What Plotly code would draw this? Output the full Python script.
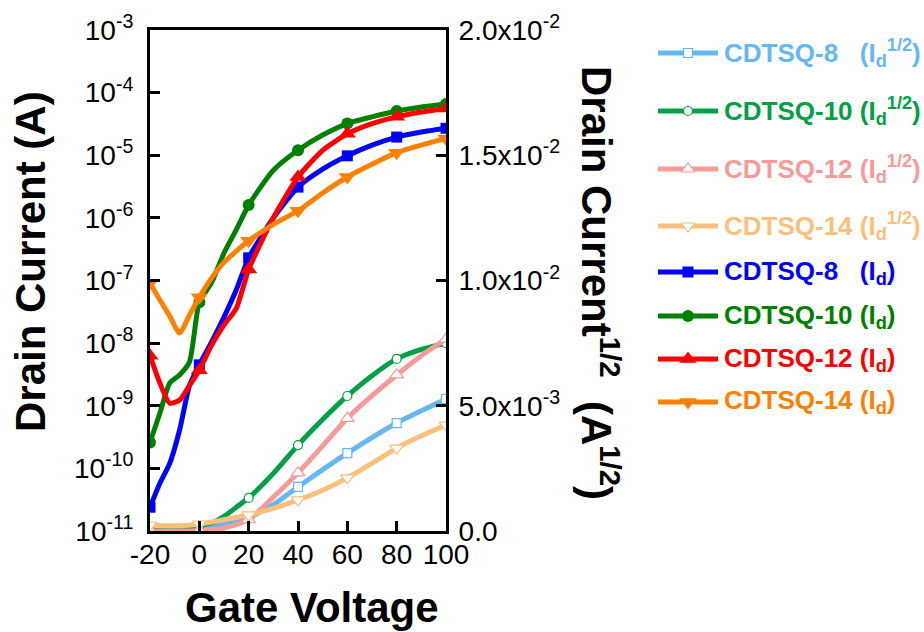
import plotly.graph_objects as go

# ---------------- data ----------------
gate_v = [-20, -16, -12, -8, -4, 0, 5, 10, 15, 20, 30, 40, 50, 60, 70, 80, 90, 100]
marker_v = [-20, 0, 20, 40, 60, 80, 100]

id_8 = [2.4e-11, 5.8e-11, 1.2e-10, 4.1e-10, 2.1e-9, 4.5e-9, 1.05e-8, 2.6e-8, 7.1e-8, 2.3e-7,
        1.0e-6, 3.1e-6, 6.0e-6, 9.8e-6, 1.45e-5, 1.95e-5, 2.35e-5, 2.7e-5]
id_10 = [2.6e-10, 7.6e-10, 2.3e-9, 3.1e-9, 5.0e-9, 4.5e-8, 9.3e-8, 2.75e-7, 6.5e-7, 1.6e-6,
         5.75e-6, 1.2e-5, 2.1e-5, 3.2e-5, 4.1e-5, 5.1e-5, 5.9e-5, 6.6e-5]
id_12 = [6.3e-9, 2.3e-9, 1.1e-9, 1.23e-9, 2.1e-9, 3.7e-9, 9.3e-9, 1.95e-8, 3.6e-8, 1.5e-7,
         1.0e-6, 4.5e-6, 1.2e-5, 2.2e-5, 3.2e-5, 4.1e-5, 4.9e-5, 5.6e-5]
id_14 = [9.1e-8, 4.9e-8, 2.7e-8, 1.45e-8, 2.8e-8, 5.4e-8, 1.1e-7, 1.95e-7, 2.95e-7, 4.3e-7,
         7.9e-7, 1.3e-6, 2.5e-6, 4.5e-6, 7.2e-6, 1.1e-5, 1.45e-5, 1.85e-5]

sq_8 = [0.00002, 0.00002, 0.00003, 0.00004, 0.00006, 0.0001, 0.00017, 0.00026, 0.00038, 0.00052,
        0.00105, 0.00176, 0.00245, 0.00311, 0.00373, 0.00431, 0.0048, 0.00527]
sq_10 = [0.00002, 0.00003, 0.00004, 0.00006, 0.0001, 0.00022, 0.00032, 0.00058, 0.00095, 0.00132,
         0.0023, 0.00343, 0.00445, 0.00539, 0.0062, 0.00687, 0.00725, 0.0075]
sq_12 = [0.0, 0.0, 0.0, 0.0, 0.0, 0.00002, 0.00005, 0.00012, 0.00025, 0.00045,
         0.00135, 0.00232, 0.0034, 0.0045, 0.0054, 0.00623, 0.007, 0.00766]
sq_14 = [0.00024, 0.00022, 0.00021, 0.00021, 0.00023, 0.00028, 0.00036, 0.00045, 0.00054, 0.00064,
         0.0009, 0.00124, 0.00163, 0.00212, 0.0027, 0.00331, 0.0038, 0.00423]

x_tickvals = [-20, 0, 20, 40, 60, 80, 100]
x_ticktext = ["-20", "0", "20", "40", "60", "80", "100"]
left_tickvals = [1e-11, 1e-10, 1e-9, 1e-8, 1e-7, 1e-6, 1e-5, 1e-4, 1e-3]
left_ticktext = ["10<sup>-11</sup>", "10<sup>-10</sup>", "10<sup>-9</sup>", "10<sup>-8</sup>",
                 "10<sup>-7</sup>", "10<sup>-6</sup>", "10<sup>-5</sup>", "10<sup>-4</sup>", "10<sup>-3</sup>"]
right_tickvals = [0.0, 0.005, 0.01, 0.015, 0.02]
right_ticktext = ["0.0", "5.0x10<sup>-3</sup>", "1.0x10<sup>-2</sup>", "1.5x10<sup>-2</sup>", "2.0x10<sup>-2</sup>"]

labels = ["CDTSQ-8&nbsp;&nbsp;&nbsp;(I<sub>d</sub><sup>1/2</sup>)",
          "CDTSQ-10 (I<sub>d</sub><sup>1/2</sup>)",
          "CDTSQ-12 (I<sub>d</sub><sup>1/2</sup>)",
          "CDTSQ-14 (I<sub>d</sub><sup>1/2</sup>)",
          "CDTSQ-8&nbsp;&nbsp;&nbsp;(I<sub>d</sub>)",
          "CDTSQ-10 (I<sub>d</sub>)",
          "CDTSQ-12 (I<sub>d</sub>)",
          "CDTSQ-14 (I<sub>d</sub>)"]

# ---------------- style ----------------
FONT = "Arial, Liberation Sans, sans-serif"
W, H = 924, 632
PX_L, PX_R, PX_T, PX_B = 150, 446, 30, 531

series = [
    (sq_8, "y2", "#66B8F2", "square", False),
    (sq_10, "y2", "#00A046", "circle", False),
    (sq_12, "y2", "#F79A9A", "triangle-up", False),
    (sq_14, "y2", "#FAC07C", "triangle-down", False),
    (id_8, "y", "#0000FF", "square", True),
    (id_10, "y", "#008000", "circle", True),
    (id_12, "y", "#FF0000", "triangle-up", True),
    (id_14, "y", "#FF8000", "triangle-down", True),
]
marker_size = {"square": 11, "circle": 12, "triangle-up": 15, "triangle-down": 15}
open_size = {"square": 9, "circle": 9, "triangle-up": 12, "triangle-down": 12}

legend_rows = [53, 111, 169, 226, 272, 316, 359, 402]  # pixel rows of legend entries


def marker_style(sym, color, filled):
    if filled:
        return dict(symbol=sym, size=marker_size[sym], color=color, line=dict(width=0))
    return dict(symbol=sym, size=open_size[sym], color="white", line=dict(color=color, width=1.2))


fig = go.Figure()

for vals, ax, color, sym, filled in series:
    fig.add_trace(go.Scatter(
        x=gate_v, y=vals, yaxis=ax, mode="lines",
        line=dict(color=color, width=5, shape="spline", smoothing=0.6),
        showlegend=False, hoverinfo="skip"))
    mx = [v for v in gate_v if v in marker_v]
    my = [vals[gate_v.index(v)] for v in mx]
    fig.add_trace(go.Scatter(x=mx, y=my, yaxis=ax, mode="markers",
                             marker=marker_style(sym, color, filled),
                             showlegend=False, hoverinfo="skip"))

# custom legend (drawn on an auxiliary pair of axes)
for (vals, ax, color, sym, filled), row, lab in zip(series, legend_rows, labels):
    fig.add_trace(go.Scatter(x=[0, 1], y=[row, row], xaxis="x3", yaxis="y3", mode="lines",
                             line=dict(color=color, width=5), showlegend=False, hoverinfo="skip"))
    fig.add_trace(go.Scatter(x=[0.5], y=[row], xaxis="x3", yaxis="y3", mode="markers",
                             marker=marker_style(sym, color, filled),
                             showlegend=False, hoverinfo="skip", cliponaxis=False))
    fig.add_annotation(x=722 / W, y=1 - row / H, xref="paper", yref="paper",
                       xanchor="left", yanchor="middle", showarrow=False,
                       text="<b>" + lab + "</b>", font=dict(family=FONT, size=26, color=color))

axis_common = dict(showline=True, linecolor="black", linewidth=3, ticks="inside",
                   ticklen=10, tickwidth=3, tickcolor="black", showgrid=False, zeroline=False,
                   automargin=False)

fig.update_layout(
    width=W, height=H,
    margin=dict(l=0, r=0, t=0, b=0, autoexpand=False),
    paper_bgcolor="white", plot_bgcolor="white",
    xaxis=dict(domain=[PX_L / W, PX_R / W], range=[-20, 100], tickvals=x_tickvals,
               ticktext=x_ticktext, mirror=True, anchor="y",
               tickfont=dict(family=FONT, size=28, color="black"), ticklabelstandoff=-4,
               **axis_common),
    yaxis=dict(domain=[1 - PX_B / H, 1 - PX_T / H], type="log", range=[-11, -3],
               tickvals=left_tickvals, ticktext=left_ticktext, anchor="x",
               tickfont=dict(family=FONT, size=28, color="black"), ticklabelstandoff=8,
               **axis_common),
    yaxis2=dict(overlaying="y", side="right", range=[0, 0.02], anchor="x",
                tickvals=right_tickvals, ticktext=right_ticktext,
                tickfont=dict(family=FONT, size=28, color="black"), ticklabelstandoff=4,
                **axis_common),
    xaxis3=dict(domain=[658 / W, 718 / W], range=[0, 1], visible=False, anchor="y3"),
    yaxis3=dict(domain=[0, 1], range=[H, 0], visible=False, anchor="x3"),
    showlegend=False,
)

fig.add_annotation(x=30 / W, y=1 - 262 / H, xref="paper", yref="paper", showarrow=False,
                   xanchor="center", yanchor="middle",
                   text="<b>Drain Current (A)</b>", textangle=-90,
                   font=dict(family=FONT, size=42, color="black"))
fig.add_annotation(x=600 / W, y=1 - 283 / H, xref="paper", yref="paper", showarrow=False,
                   xanchor="center", yanchor="middle",
                   text="<b>Drain Current<sup>1/2</sup>&nbsp;&nbsp;(A<sup>1/2</sup>)</b>", textangle=90,
                   font=dict(family=FONT, size=42, color="black"))
fig.add_annotation(x=312 / W, y=1 - 607 / H, xref="paper", yref="paper", showarrow=False,
                   xanchor="center", yanchor="middle",
                   text="<b>Gate Voltage</b>",
                   font=dict(family=FONT, size=42, color="black"))

fig.write_html("out.html")
